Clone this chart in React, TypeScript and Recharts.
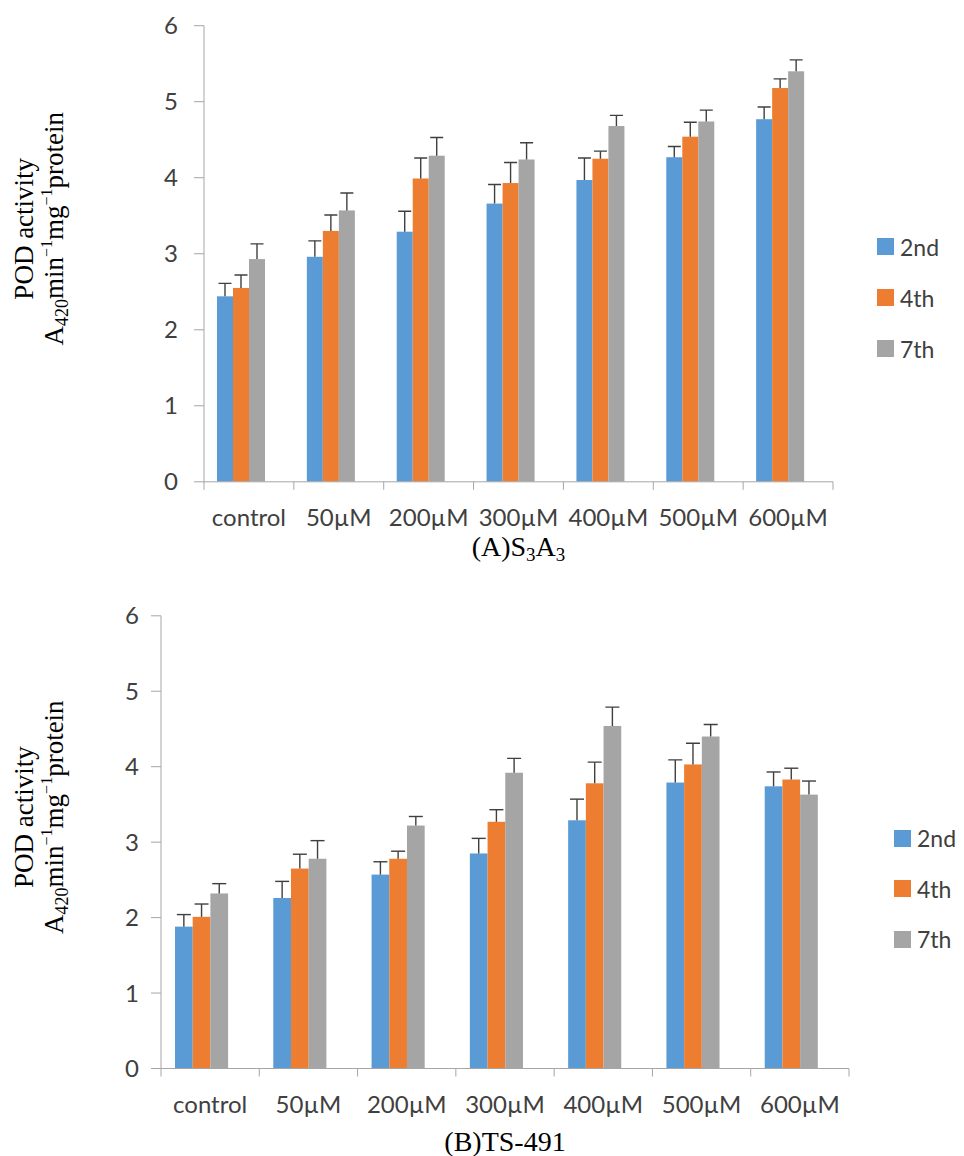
import React from 'react';
import { BarChart, Bar, XAxis, YAxis, Legend } from 'recharts';

// ---------- data ----------
const categories = ['control', '50µM', '200µM', '300µM', '400µM', '500µM', '600µM'];
const seriesNames = ['2nd', '4th', '7th'];
const yTicks = [0, 1, 2, 3, 4, 5, 6];

// (A) S3A3
const a2nd = [2.44, 2.96, 3.29, 3.66, 3.97, 4.27, 4.77];
const a4th = [2.55, 3.30, 3.99, 3.93, 4.25, 4.54, 5.18];
const a7th = [2.93, 3.57, 4.29, 4.24, 4.68, 4.74, 5.40];
const a2ndErr = [0.17, 0.21, 0.27, 0.25, 0.29, 0.14, 0.16];
const a4thErr = [0.17, 0.21, 0.27, 0.27, 0.10, 0.19, 0.12];
const a7thErr = [0.20, 0.23, 0.24, 0.22, 0.14, 0.15, 0.15];

// (B) TS-491
const b2nd = [1.88, 2.26, 2.57, 2.85, 3.29, 3.79, 3.74];
const b4th = [2.01, 2.65, 2.78, 3.27, 3.78, 4.03, 3.83];
const b7th = [2.32, 2.78, 3.22, 3.92, 4.54, 4.40, 3.63];
const b2ndErr = [0.16, 0.22, 0.17, 0.20, 0.28, 0.30, 0.19];
const b4thErr = [0.17, 0.19, 0.10, 0.16, 0.28, 0.28, 0.15];
const b7thErr = [0.13, 0.24, 0.12, 0.19, 0.25, 0.16, 0.18];

// ---------- styles ----------
const COLORS = ['#5B9BD5', '#ED7D31', '#A5A5A5'];
const AXIS = '#A6A6A6';
const TEXT = '#404040';
const ERR = '#3F3F3F';
const SANS = 'Lato, "Open Sans", sans-serif';
const SERIF = '"Liberation Serif", "Times New Roman", serif';
const X_TICK_SIZE = 12;
const X_TICK_MARGIN = 15;
const BOUNDARY_TICK = 8;

const buildTable = (s1: number[], s2: number[], s3: number[], e1: number[], e2: number[], e3: number[]) =>
  categories.map((cat, i) => ({ cat, v0: s1[i], v1: s2[i], v2: s3[i], e0: e1[i], e1: e2[i], e2: e3[i] }));

const dataA = buildTable(a2nd, a4th, a7th, a2ndErr, a4thErr, a7thErr);
const dataB = buildTable(b2nd, b4th, b7th, b2ndErr, b4thErr, b7thErr);

const makeShape = (idx: number, capHalf: number) => (props: any) => {
  const { x, y, width, height, fill, payload } = props;
  const v = payload[`v${idx}`];
  const e = payload[`e${idx}`];
  const k = v ? height / v : 0;
  const cx = x + width / 2;
  const top = y - e * k;
  return (
    <g>
      <rect x={x} y={y} width={width} height={height} fill={fill} />
      <line x1={cx} x2={cx} y1={y} y2={top} stroke={ERR} strokeWidth={1.4} />
      <line x1={cx - capHalf} x2={cx + capHalf} y1={top} y2={top} stroke={ERR} strokeWidth={1.4} />
    </g>
  );
};

const makeCatTick = (plotW: number) => (props: any) => {
  const { x, y, payload, index, visibleTicksCount } = props;
  const n = visibleTicksCount || categories.length;
  const band = (typeof props.width === 'number' && props.width > 0 ? props.width : plotW) / n;
  const axisY = y - X_TICK_SIZE - X_TICK_MARGIN;
  const left = x - band / 2;
  const right = x + band / 2;
  return (
    <g>
      <line x1={left} x2={left} y1={axisY} y2={axisY + BOUNDARY_TICK} stroke={AXIS} />
      {index === n - 1 && (
        <line x1={right} x2={right} y1={axisY} y2={axisY + BOUNDARY_TICK} stroke={AXIS} />
      )}
      <text x={x} y={y} dy="0.71em" textAnchor="middle" fill={TEXT} fontSize={24} fontFamily={SANS}>
        {payload.value}
      </text>
    </g>
  );
};

type PanelProps = {
  data: any[];
  height: number;
  top: number;
  right: number;
  plotLeft: number;
  bottom: number;
  barSize: number;
  capHalf: number;
  yTickMargin: number;
  legendLeft: number;
  legendTop: number;
  legendRow: number;
  labelShift: number;
  subtitle: React.ReactNode;
  subtitleY: number;
};

const Panel = (p: PanelProps) => {
  const W = 964;
  const plotH = p.height - p.top - p.bottom;
  const plotW = W - p.plotLeft - p.right;
  const cy = p.top + plotH / 2 - p.labelShift;
  const cx = p.plotLeft + plotW / 2;
  const legendContent = () => (
    <div style={{ fontFamily: SANS, fontSize: 23, color: TEXT }}>
      {seriesNames.map((n, i) => (
        <div key={n} style={{ height: p.legendRow, display: 'flex', alignItems: 'center' }}>
          <span style={{ display: 'inline-block', width: 17, height: 17, background: COLORS[i], marginRight: 6 }} />
          <span>{n}</span>
        </div>
      ))}
    </div>
  );
  return (
    <div style={{ position: 'relative', width: W, height: p.height }}>
      <BarChart
        width={W}
        height={p.height}
        data={p.data}
        margin={{ top: p.top, right: p.right, bottom: p.bottom - 60, left: 0 }}
        barGap={0}
        barSize={p.barSize}
      >
        <XAxis
          dataKey="cat"
          type="category"
          interval={0}
          height={60}
          tickLine={false}
          tickSize={X_TICK_SIZE}
          tickMargin={X_TICK_MARGIN}
          axisLine={{ stroke: AXIS }}
          tick={makeCatTick(plotW)}
        />
        <YAxis
          domain={[0, 6]}
          ticks={yTicks}
          width={p.plotLeft}
          tickSize={10}
          tickMargin={p.yTickMargin}
          axisLine={{ stroke: AXIS }}
          tickLine={{ stroke: AXIS }}
          tick={{ fill: TEXT, fontSize: 24, fontFamily: SANS }}
          allowDataOverflow
        />
        <Legend
          layout="vertical"
          align="center"
          verticalAlign="middle"
          content={legendContent}
          wrapperStyle={{ left: p.legendLeft, top: p.legendTop, width: 90 }}
        />
        {[0, 1, 2].map((i) => (
          <Bar
            key={i}
            dataKey={`v${i}`}
            name={seriesNames[i]}
            fill={COLORS[i]}
            isAnimationActive={false}
            shape={makeShape(i, p.capHalf)}
          />
        ))}
        <Bar dataKey="pad" fill="none" legendType="none" isAnimationActive={false} />
      </BarChart>
      <svg
        width={W}
        height={p.height}
        style={{ position: 'absolute', left: 0, top: 0, pointerEvents: 'none' }}
      >
        <text
          transform={`translate(33,${cy}) rotate(-90)`}
          textAnchor="middle"
          fontFamily={SERIF}
          fontSize={27}
          fill="#000"
        >
          POD activity
        </text>
        <text
          transform={`translate(63,${cy}) rotate(-90)`}
          textAnchor="middle"
          fontFamily={SERIF}
          fontSize={27}
          fill="#000"
        >
          A
          <tspan fontSize={18} dy={5}>420</tspan>
          <tspan dy={-5}>min</tspan>
          <tspan fontSize={16} dy={-11}>−1</tspan>
          <tspan dy={11}>mg</tspan>
          <tspan fontSize={16} dy={-11}>−1</tspan>
          <tspan dy={11}>protein</tspan>
        </text>
        <text x={cx} y={p.subtitleY} textAnchor="middle" fontFamily={SERIF} fontSize={28} fill="#000">
          {p.subtitle}
        </text>
      </svg>
    </div>
  );
};

export default function App() {
  return (
    <div style={{ position: 'absolute', left: 0, top: 0, width: 964, height: 1156, background: '#fff' }}>
      <Panel
        data={dataA}
        height={580}
        top={25.7}
        right={131}
        plotLeft={204}
        bottom={98.2}
        barSize={16}
        capHalf={6.5}
        yTickMargin={16}
        legendLeft={877}
        legendTop={221}
        legendRow={51}
        labelShift={25}
        subtitleY={556}
        subtitle={
          <>
            (A)S<tspan fontSize={19} dy={5}>3</tspan>
            <tspan dy={-5}>A</tspan>
            <tspan fontSize={19} dy={5}>3</tspan>
          </>
        }
      />
      <Panel
        data={dataB}
        height={576}
        top={35.8}
        right={115}
        plotLeft={161}
        bottom={87.5}
        barSize={17.7}
        capHalf={7}
        yTickMargin={12}
        legendLeft={894}
        legendTop={233}
        legendRow={50.5}
        labelShift={25}
        subtitleY={571}
        subtitle={<>(B)TS-491</>}
      />
    </div>
  );
}
